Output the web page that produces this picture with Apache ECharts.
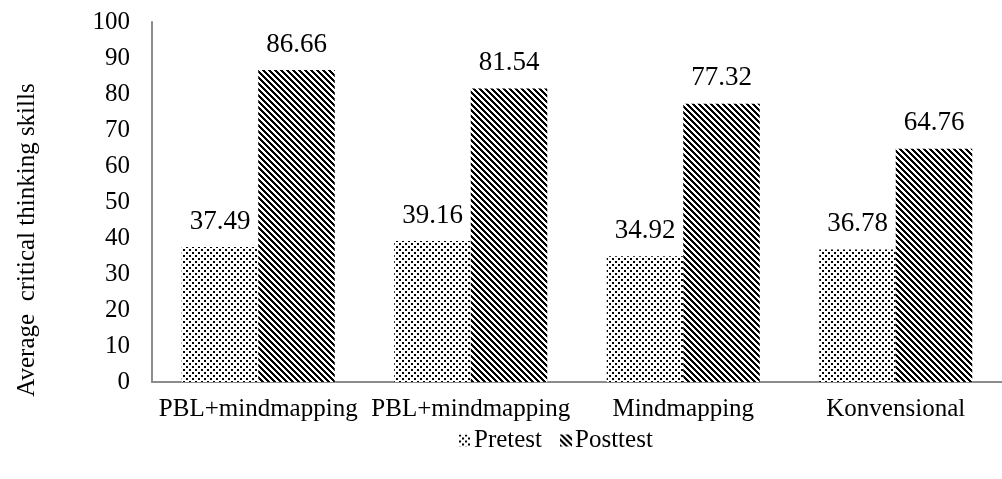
<!DOCTYPE html>
<html>
<head>
<meta charset="utf-8">
<script src="https://cdn.jsdelivr.net/npm/echarts@6/dist/echarts.min.js"></script>
<style>html,body{margin:0;padding:0;background:#fff;}#c{width:1002px;height:479px;}</style>
</head>
<body>
<div id="c"></div>
<script>
var categories = ['PBL+mindmapping', 'PBL+mindmapping', 'Mindmapping', 'Konvensional'];
var seriesNames = ['Pretest', 'Posttest'];
var pretest = [37.49, 39.16, 34.92, 36.78];
var posttest = [86.66, 81.54, 77.32, 64.76];
var yTicks = [0, 10, 20, 30, 40, 50, 60, 70, 80, 90, 100];
var yTitle = 'Average  critical thinking skills';

function makeTile(size, fn) {
  var c = document.createElement('canvas');
  c.width = size; c.height = size;
  var ctx = c.getContext('2d');
  var img = ctx.createImageData(size, size);
  for (var y = 0; y < size; y++) {
    for (var x = 0; x < size; x++) {
      var i = (y * size + x) * 4;
      var v = fn(x, y) ? 0 : 255;
      img.data[i] = v; img.data[i + 1] = v; img.data[i + 2] = v; img.data[i + 3] = 255;
    }
  }
  ctx.putImageData(img, 0, 0);
  return c;
}
var dotTile = makeTile(6, function (x, y) {
  return ((x < 2 && y < 2) || (x >= 3 && x < 5 && y >= 3 && y < 5));
});
var stripeTile = makeTile(6, function (x, y) {
  return (((x - y) % 6) + 6) % 6 < 3;
});
var dotPattern = { image: dotTile, repeat: 'repeat' };
var stripePattern = { image: stripeTile, repeat: 'repeat' };

var font = 'Liberation Serif, Times New Roman, serif';
var chart = echarts.init(document.getElementById('c'));
var labelCfg = { show: true, position: 'top', distance: 12, color: '#000', fontFamily: font, fontSize: 27,
  formatter: function (p) { return p.value.toFixed(2); } };
chart.setOption({
  animation: false,
  backgroundColor: '#fff',
  grid: { left: 152, right: -10, top: 22, bottom: 97, containLabel: false },
  legend: {
    data: seriesNames, left: 454, top: 423, itemWidth: 12, itemHeight: 12, itemGap: 18,
    icon: 'rect',
    textStyle: { fontFamily: font, fontSize: 25, color: '#000', padding: [0, 0, 0, -2] }
  },
  xAxis: {
    type: 'category', data: categories,
    axisLine: { lineStyle: { color: '#8c8c8c', width: 2 } },
    axisTick: { show: false },
    axisLabel: { interval: 0, color: '#000', fontFamily: font, fontSize: 25, margin: 15 }
  },
  yAxis: {
    type: 'value', min: yTicks[0], max: yTicks[yTicks.length - 1], interval: 10,
    axisLine: { show: true, lineStyle: { color: '#8c8c8c', width: 2 } },
    axisTick: { show: false },
    splitLine: { show: false },
    axisLabel: { color: '#000', fontFamily: font, fontSize: 25, margin: 22 }
  },
  graphic: [{
    type: 'text', rotation: Math.PI / 2,
    position: [27, 240],
    style: { text: yTitle, fontFamily: font, fontSize: 25, fill: '#000', textAlign: 'center', textVerticalAlign: 'middle' }
  }],
  series: [
    { name: seriesNames[0], type: 'bar', data: pretest, barGap: '0%', barCategoryGap: '28%',
      itemStyle: { color: dotPattern }, label: labelCfg },
    { name: seriesNames[1], type: 'bar', data: posttest, barGap: '0%', barCategoryGap: '28%',
      itemStyle: { color: stripePattern }, label: labelCfg }
  ]
});
</script>
</body>
</html>
